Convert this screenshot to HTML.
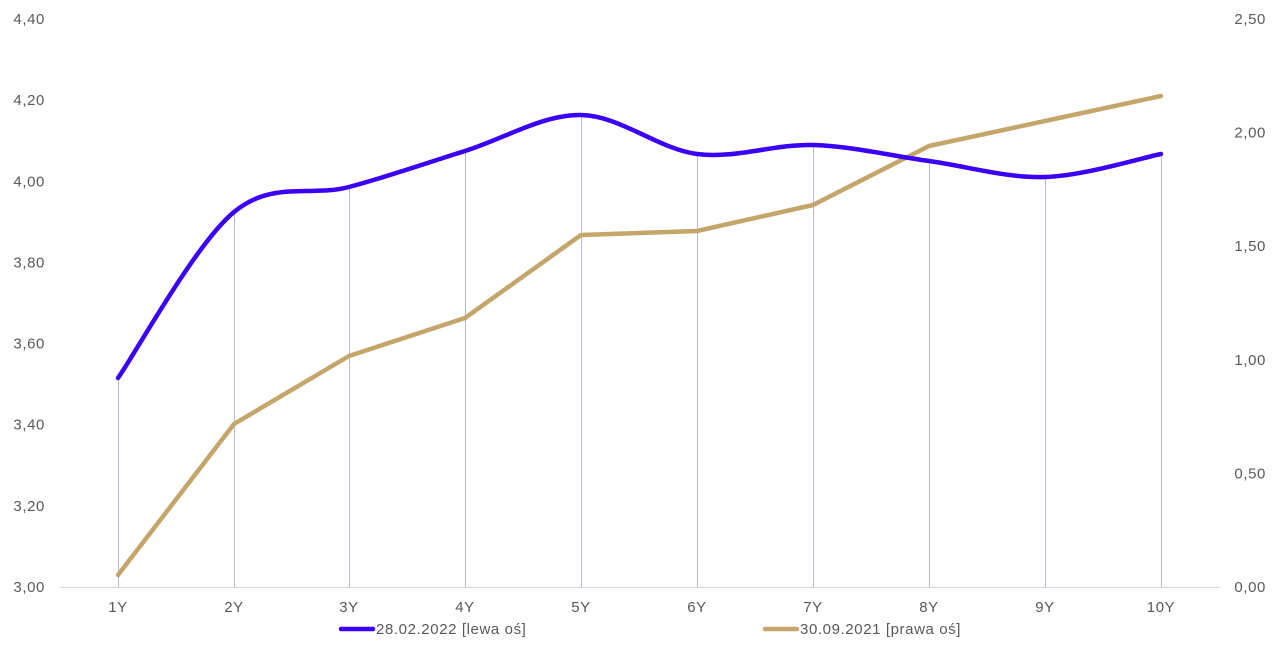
<!DOCTYPE html>
<html><head><meta charset="utf-8"><style>
body{margin:0;background:#fff;}
svg{display:block;font-family:"Liberation Sans",sans-serif;}
text{fill:#595959;font-size:15px;letter-spacing:0.6px;}
</style></head><body>
<svg id="c" width="1280" height="666" viewBox="0 0 1280 666" xmlns="http://www.w3.org/2000/svg">
<g id="drops" stroke="#b4bccb" stroke-width="1"></g>
<line x1="60" y1="587.5" x2="1220" y2="587.5" stroke="#d9d9d9" stroke-width="1"/>
<g id="lab"></g>
<path id="gold" fill="none" stroke="#c4a66a" stroke-width="4.5" stroke-linejoin="round" stroke-linecap="round"/>
<path id="blue" fill="none" stroke="#3a00f5" stroke-width="4.5" stroke-linecap="round"/>
<line x1="341" y1="629" x2="373" y2="629" stroke="#3a00f5" stroke-width="4.5" stroke-linecap="round"/>
<text x="376" y="634">28.02.2022 [lewa oś]</text>
<line x1="765" y1="629" x2="797" y2="629" stroke="#c4a66a" stroke-width="4.5" stroke-linecap="round"/>
<text x="800" y="634">30.09.2021 [prawa oś]</text>
</svg>
<script>
var NS="http://www.w3.org/2000/svg";
function el(p,t,a,txt){var e=document.createElementNS(NS,t);for(var k in a)e.setAttribute(k,a[k]);if(txt)e.textContent=txt;p.appendChild(e);return e;}
var xs=[118,234,349,465,581,697,813,929,1045,1161];
var by=[378,212,187,151,115,154,145,161,177,154];
var gy=[575,424,356,318,235,231,205,146,121,96];
var lab=document.getElementById('lab'),dr=document.getElementById('drops');
var L=["4,40","4,20","4,00","3,80","3,60","3,40","3,20","3,00"];
var R=["2,50","2,00","1,50","1,00","0,50","0,00"];
for(var i=0;i<8;i++){var y=19+i*(568/7);el(lab,'text',{x:45,y:y+5,'text-anchor':'end'},L[i]);}
for(var i=0;i<6;i++){var y=19+i*(568/5);el(lab,'text',{x:1266,y:y+5,'text-anchor':'end'},R[i]);}
for(var i=0;i<10;i++){el(lab,'text',{x:xs[i],y:612,'text-anchor':'middle'},(i+1)+"Y");
el(dr,'line',{x1:xs[i]+.5,y1:by[i],x2:xs[i]+.5,y2:587});}
var g="M"+xs[0]+" "+gy[0];for(var i=1;i<10;i++)g+=" L"+xs[i]+" "+gy[i];
document.getElementById('gold').setAttribute('d',g);
var d="M"+xs[0]+" "+by[0],t=1/6;
for(var i=0;i<9;i++){var p0=i?i-1:0,p3=i+2<10?i+2:9;
var c1x=xs[i]+(xs[i+1]-xs[p0])*t,c1y=by[i]+(by[i+1]-by[p0])*t;
var c2x=xs[i+1]-(xs[p3]-xs[i])*t,c2y=by[i+1]-(by[p3]-by[i])*t;
d+=" C"+c1x+" "+c1y+" "+c2x+" "+c2y+" "+xs[i+1]+" "+by[i+1];}
document.getElementById('blue').setAttribute('d',d);
</script>
</body></html>
